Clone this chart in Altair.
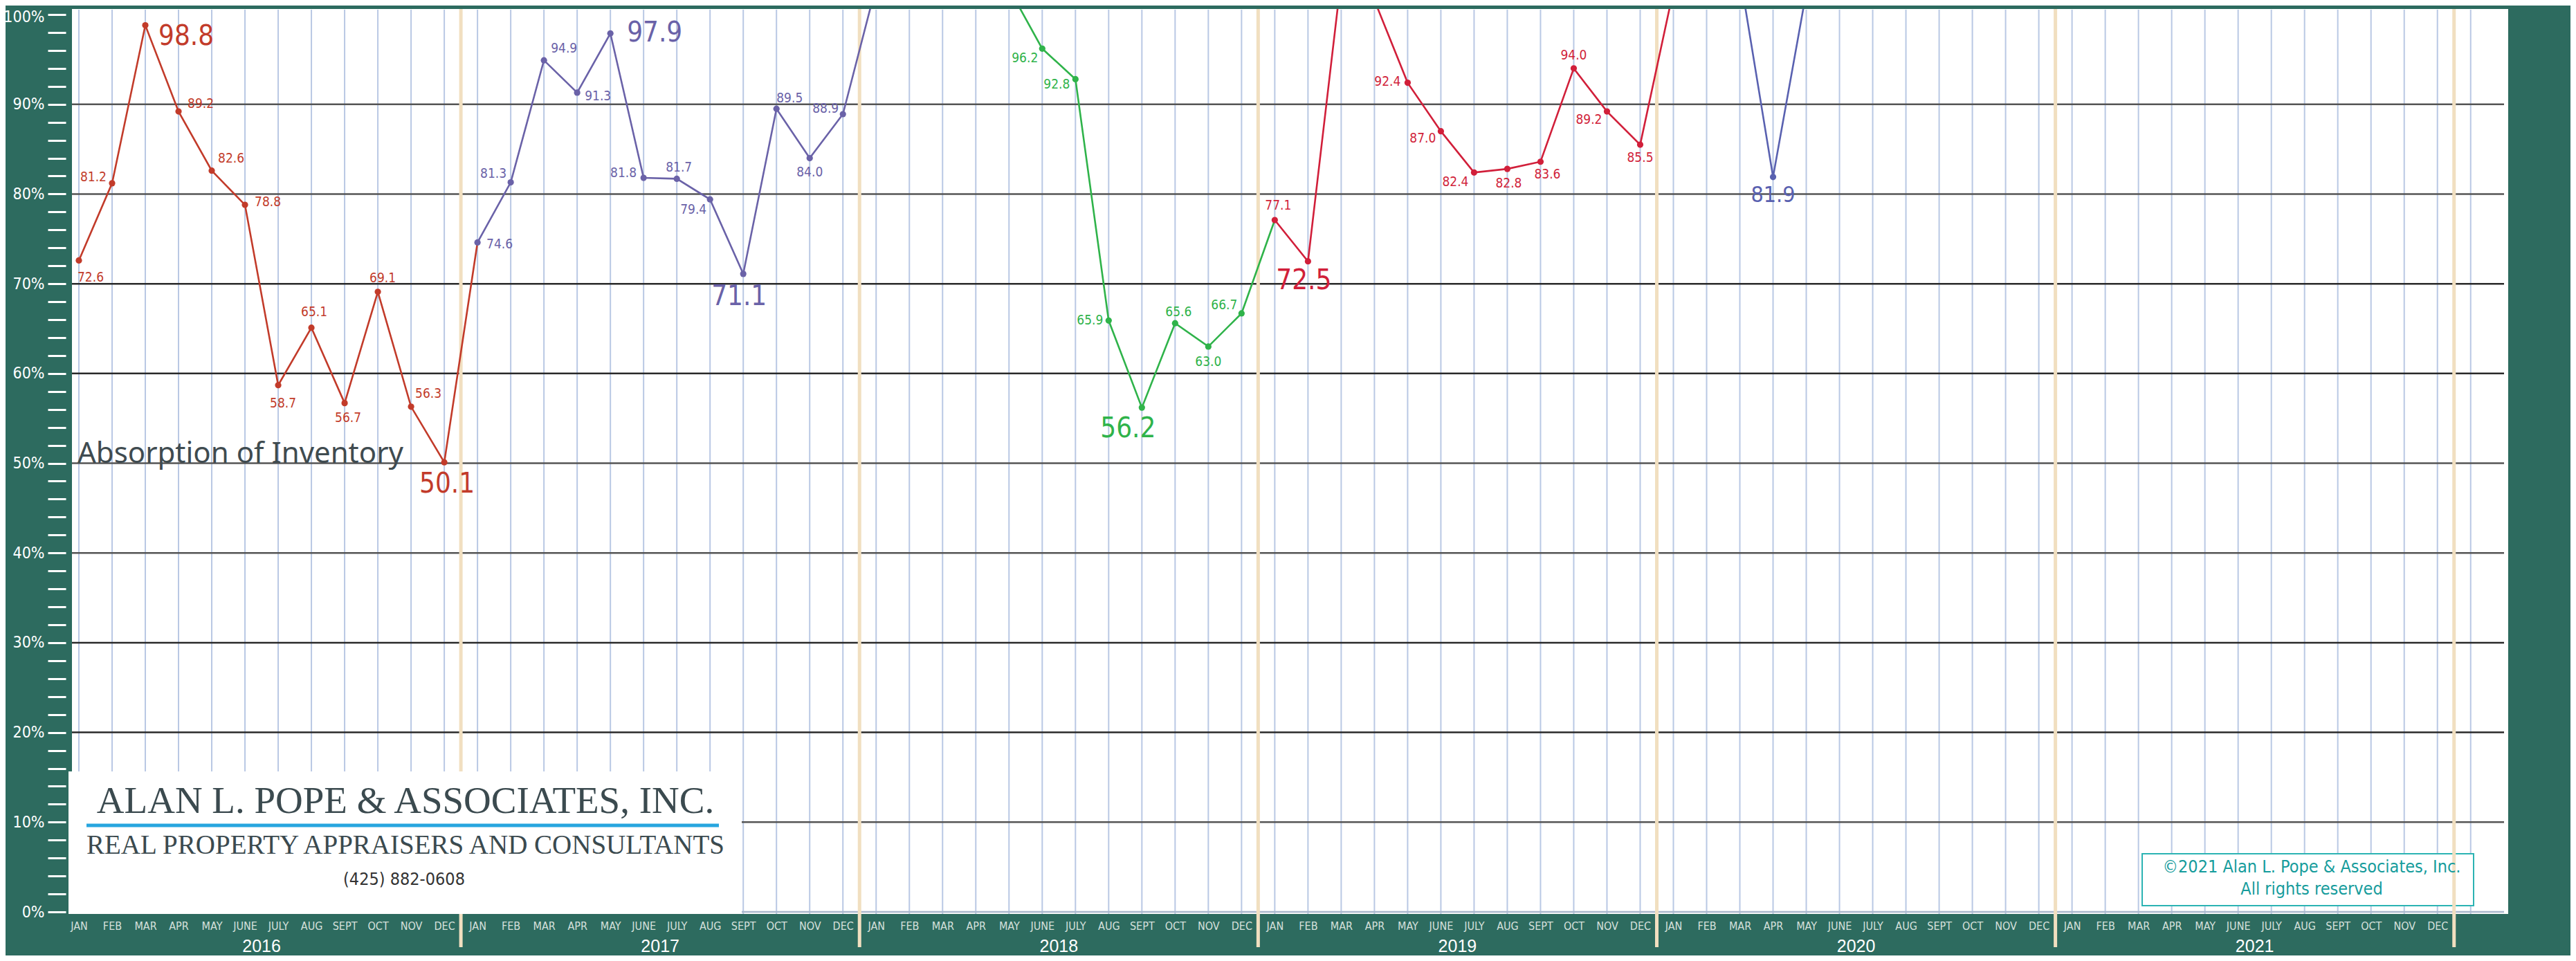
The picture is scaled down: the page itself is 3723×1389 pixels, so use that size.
import altair as alt
import pandas as pd

# ---------------- data ----------------
MONTHS = ["JAN", "FEB", "MAR", "APR", "MAY", "JUNE", "JULY", "AUG", "SEPT", "OCT", "NOV", "DEC"]
YEARS = [2016, 2017, 2018, 2019, 2020, 2021]

v2016 = [72.6, 81.2, 98.8, 89.2, 82.6, 78.8, 58.7, 65.1, 56.7, 69.1, 56.3, 50.1]
v2017 = [74.6, 81.3, 94.9, 91.3, 97.9, 81.8, 81.7, 79.4, 71.1, 89.5, 84.0, 88.9]
v2018 = [103.2, 104.5, 105.8, 104.1, 102.9, 96.2, 92.8, 65.9, 56.2, 65.6, 63.0, 66.7]
v2019 = [77.1, 72.5, 104.1, 101.6, 92.4, 87.0, 82.4, 82.8, 83.6, 94.0, 89.2, 85.5]
v2020 = [102.7, 106.0, 104.5, 81.9, 102.5]
v2021 = []

SERIES = {2016: v2016, 2017: v2017, 2018: v2018, 2019: v2019, 2020: v2020, 2021: v2021}
SERIES_COLORS = ["#c23b2a", "#6a62a8", "#2fb34a", "#d11f3a", "#5961b0", "#5961b0"]

GRID_PCT = [0, 10, 20, 30, 40, 50, 60, 70, 80, 90]
GRID_COLORS = ["#aab8cc", "#555555", "#2a2a2a", "#2a2a2a", "#555555",
               "#555555", "#2a2a2a", "#2a2a2a", "#555555", "#555555"]

# label placement (year, month index, align, dx px, dy px, size class)
LABELS = [
    (2016, 0, "left", -2, 25, "s"), (2016, 1, "right", -8, -9, "s"), (2016, 2, "left", 19, 16, "b"),
    (2016, 3, "left", 13, -11, "s"), (2016, 4, "left", 9, -18, "s"), (2016, 5, "left", 14, -4, "s"),
    (2016, 6, "center", 7, 26, "s"), (2016, 7, "center", 4, -23, "s"), (2016, 8, "center", 5, 21, "s"),
    (2016, 9, "center", 7, -20, "s"), (2016, 10, "left", 6, -19, "s"), (2016, 11, "center", 4, 32, "b"),
    (2017, 0, "left", 13, 3, "s"), (2017, 1, "right", -6, -13, "s"), (2017, 2, "left", 10, -17, "s"),
    (2017, 3, "left", 11, 5, "s"), (2017, 4, "left", 24, 0, "b"), (2017, 5, "right", -10, -7, "s"),
    (2017, 6, "center", 3, -16, "s"), (2017, 7, "right", -5, 15, "s"), (2017, 8, "center", -6, 33, "b"),
    (2017, 9, "left", 0, -15, "s"), (2017, 10, "center", 0, 20, "s"), (2017, 11, "right", -6, -8, "s"),
    (2018, 5, "right", -6, 14, "s"), (2018, 6, "right", -8, 8, "s"), (2018, 7, "right", -8, 0, "s"),
    (2018, 8, "center", -20, 31, "b"), (2018, 9, "center", 5, -16, "s"), (2018, 10, "center", 0, 22, "s"),
    (2018, 11, "right", -6, -12, "s"),
    (2019, 0, "center", 5, -21, "s"), (2019, 1, "center", -6, 28, "b"), (2019, 4, "right", -10, -2, "s"),
    (2019, 5, "right", -7, 10, "s"), (2019, 6, "right", -8, 14, "s"), (2019, 7, "center", 2, 21, "s"),
    (2019, 8, "center", 10, 18, "s"), (2019, 9, "center", 0, -19, "s"), (2019, 10, "right", -7, 12, "s"),
    (2019, 11, "center", 0, 19, "s"),
    (2020, 3, "center", 0, 26, "m"),
]
LABEL_SIZES = {"s": 19, "m": 32, "b": 40}

# ---------------- layout ----------------
W, H = 3521, 1308
X_DOMAIN = [-0.208, 73.13]
Y_DOMAIN = [-0.23, 100.62]
GREEN = "#2d6b5f"
NARROW = "'Liberation Sans Narrow', 'DejaVu Sans Condensed', 'Roboto Condensed', sans-serif"
SANS = "'Noto Sans', 'Open Sans', sans-serif"
SERIF = "'Liberation Serif', 'DejaVu Serif', serif"

xs = alt.Scale(domain=X_DOMAIN, nice=False, zero=False)
ys = alt.Scale(domain=Y_DOMAIN, nice=False, zero=False)
col_scale = alt.Scale(domain=[str(y) for y in YEARS], range=SERIES_COLORS)

month_arr = "[" + ",".join("'%s'" % m for m in MONTHS) + "]"
x_axis = alt.Axis(
    values=list(range(72)), labelExpr=month_arr + "[datum.value % 12]", title=None,
    domain=False, ticks=False, grid=False, labelFont=NARROW, labelFontSize=16,
    labelColor="#d6e0dc", labelPadding=9, labelOverlap=False, labelFlush=False,
)
y_axis = alt.Axis(
    values=list(range(0, 101, 2)),
    labelExpr="datum.value % 10 == 0 ? datum.value + '%' : ''",
    title=None, domain=False, grid=False, tickColor="white", tickWidth=3, tickSize=26,
    offset=9, labelPadding=5, labelFont=NARROW, labelFontSize=23, labelColor="white",
    labelOverlap=False, labelFlush=False,
    labelOffset={"condition": {"test": "datum.value == 100", "value": 3}, "value": 0},
)


def X(field):
    return alt.X(field, scale=xs, axis=x_axis)


def Y(field):
    return alt.Y(field, scale=ys, axis=y_axis)


# ---------------- tables ----------------
line_rows, point_rows = [], []
for yi, yr in enumerate(YEARS):
    vals = SERIES[yr]
    for m, v in enumerate(vals):
        line_rows.append({"idx": yi * 12 + m, "value": v, "series": str(yr), "order": m})
        point_rows.append({"idx": yi * 12 + m, "value": v, "series": str(yr)})
    if vals and yi + 1 < len(YEARS) and SERIES[YEARS[yi + 1]]:
        line_rows.append({"idx": (yi + 1) * 12, "value": SERIES[YEARS[yi + 1]][0],
                          "series": str(yr), "order": 12})
lines_df = pd.DataFrame(line_rows)
points_df = pd.DataFrame(point_rows)

px_x = (X_DOMAIN[1] - X_DOMAIN[0]) / W
px_y = (Y_DOMAIN[1] - Y_DOMAIN[0]) / H
label_rows = []
for yr, m, align, dx, dy, sz in LABELS:
    v = SERIES[yr][m]
    label_rows.append({"idx": YEARS.index(yr) * 12 + m, "value": v, "series": str(yr),
                       "text": "%.1f" % v, "align": align, "dx": dx, "dy": dy,
                       "size": LABEL_SIZES[sz]})
labels_df = pd.DataFrame(label_rows)

grid_months = pd.DataFrame({"idx": list(range(73))})
grid_pct = pd.DataFrame({"pct": GRID_PCT, "c": GRID_COLORS})
year_bounds = pd.DataFrame({"idx": [12 * k + 11.5 for k in range(len(YEARS))]})
year_labels = pd.DataFrame({"idx": [12 * k + 5.5 for k in range(len(YEARS))],
                            "year": [str(y) for y in YEARS]})


def note(text, x, y, size, color, font, align="center", weight="normal"):
    return alt.Chart(pd.DataFrame({"t": [text]})).mark_text(
        align=align, baseline="middle", fontSize=size, color=color, font=font, fontWeight=weight
    ).encode(x=alt.value(x), y=alt.value(y), text="t:N")


layers = []
# vertical month grid
layers.append(alt.Chart(grid_months).mark_rule(color="#b9c8e4", strokeWidth=2).encode(
    x=X("idx:Q"), y=alt.value(1), y2=alt.value(H)))
# horizontal grid
layers.append(alt.Chart(grid_pct).mark_rule(strokeWidth=2.5).encode(
    y=Y("pct:Q"), x=alt.value(0), x2=alt.value(W - 6),
    color=alt.Color("c:N", scale=None, legend=None)))
# copyright box
layers.append(alt.Chart(pd.DataFrame({"a": [0]})).mark_rect(
    fill="white", stroke="#2bb3b3", strokeWidth=2).encode(
    x=alt.value(2992), x2=alt.value(3471), y=alt.value(1221), y2=alt.value(1296)))
# year boundary lines
layers.append(alt.Chart(year_bounds).mark_rule(color="#f1dfc0", strokeWidth=5).encode(
    x=X("idx:Q"), y=alt.value(0), y2=alt.value(H + 48)))
# series lines
layers.append(alt.Chart(lines_df).mark_line(strokeWidth=2.6, clip=True).encode(
    x=X("idx:Q"), y=Y("value:Q"),
    color=alt.Color("series:N", scale=col_scale, legend=None), order="order:Q"))
layers.append(alt.Chart(points_df).mark_point(filled=True, size=85, opacity=1, clip=True).encode(
    x=X("idx:Q"), y=Y("value:Q"),
    color=alt.Color("series:N", scale=col_scale, legend=None)))
# point labels
for align in ["left", "center", "right"]:
    sub = labels_df[labels_df["align"] == align]
    if len(sub) == 0:
        continue
    layers.append(alt.Chart(sub).transform_calculate(
        lx="datum.idx + datum.dx * %f" % px_x, ly="datum.value - datum.dy * %f" % px_y
    ).mark_text(align=align, baseline="middle", font=NARROW).encode(
        x=X("lx:Q"), y=Y("ly:Q"),
        text="text:N", size=alt.Size("size:Q", scale=None, legend=None),
        color=alt.Color("series:N", scale=col_scale, legend=None)))
# chart title
layers.append(note("Absorption of Inventory", 8, 643, 42, "#3f4b50", SANS, align="left"))
# logo box
layers.append(alt.Chart(pd.DataFrame({"a": [0]})).mark_rect(fill="white").encode(
    x=alt.value(-5), x2=alt.value(968), y=alt.value(1102), y2=alt.value(1308)))
layers.append(alt.Chart(pd.DataFrame({"a": [0]})).mark_rule(color="#27a6df", strokeWidth=5).encode(
    x=alt.value(21), x2=alt.value(935), y=alt.value(1180)))
layers.append(note("ALAN L. POPE & ASSOCIATES, INC.", 482, 1145, 55, "#3b4a4f", SERIF))
layers.append(note("REAL PROPERTY APPRAISERS AND CONSULTANTS", 482, 1209, 39, "#3b4a4f", SERIF))
layers.append(note("(425) 882-0608", 480, 1258, 25, "#333333", NARROW))
# copyright text
layers.append(note("\u00a92021 Alan L. Pope & Associates, Inc.", 3237, 1240, 25, "#169c9c", NARROW))
layers.append(note("All rights reserved", 3237, 1272, 25, "#169c9c", NARROW))
# year labels
layers.append(alt.Chart(year_labels).mark_text(
    fontSize=25, color="white", font="'Liberation Sans', sans-serif", baseline="middle").encode(
    x=X("idx:Q"), y=alt.value(H + 47), text="year:N"))

chart = alt.layer(*layers).properties(
    width=W, height=H,
    padding={"left": 96, "top": 5, "right": 90, "bottom": 60},
    autosize=alt.AutoSizeParams(type="none"),
    background=GREEN,
).configure_view(fill="white", strokeWidth=0)

chart.save("out.html", embed_options={"renderer": "svg", "actions": False})
